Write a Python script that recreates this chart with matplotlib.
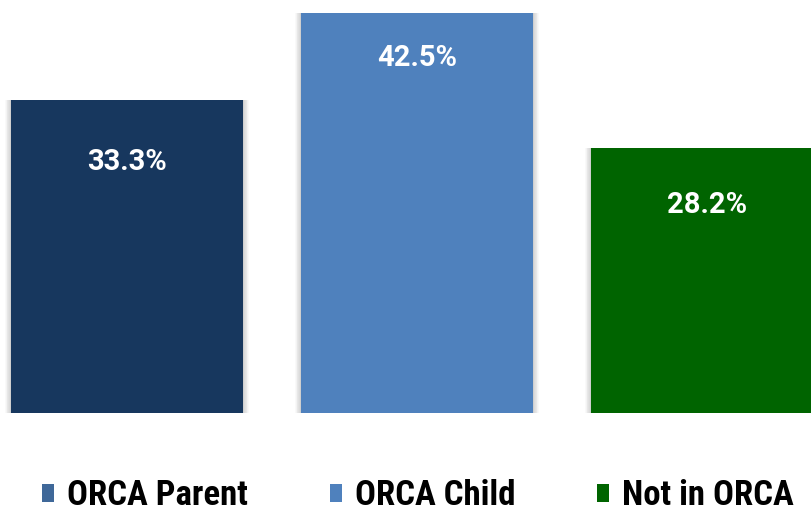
import matplotlib.pyplot as plt
from matplotlib.patches import Patch

# share of respondents in each group
groups = ["ORCA Parent", "ORCA Child", "Not in ORCA"]
shares = [33.3, 42.5, 28.2]
labels = ["33.3%", "42.5%", "28.2%"]
colors = ["#17375E", "#4F81BD", "#006400"]
legend_colors = ["#3F6899", "#4F81BD", "#006400"]

# how far below each bar top its label sits (points)
label_drop = [-45, -32, -41]

narrow = ["Liberation Sans Narrow", "Roboto Condensed", "Roboto", "DejaVu Sans"]

fig = plt.figure(figsize=(8.12, 5.08), dpi=100)
ax = fig.add_axes([0, 0, 1, 1])

x = list(range(len(groups)))

# soft grey glow around each bar
for k in range(8):
    ax.bar(x, shares, width=0.80 + 0.005 * (k + 1), color="#000000",
           alpha=0.022, linewidth=0, zorder=1)
ax.bar(x, shares, width=0.80, color=colors, linewidth=0, zorder=2)

for xi, val, lab, dy in zip(x, shares, labels, label_drop):
    ax.annotate(lab, (xi, val), xytext=(0, dy), textcoords="offset points",
                ha="center", va="center", color="white", fontsize=21,
                fontweight="bold", family=["Roboto", "DejaVu Sans"],
                zorder=3)

# axis spans the whole canvas: zero line sits near the bottom
ax.set_xlim(-0.438, 2.362)
ax.set_ylim(-95 / 9.41, 413 / 9.41)
ax.axis("off")

handles = [Patch(facecolor=c, edgecolor="none") for c in legend_colors]
leg = fig.legend(handles, groups, loc="center left", ncol=3,
                 bbox_to_anchor=(0.052, 0.024), frameon=False,
                 handlelength=0.35, handleheight=0.46, handletextpad=0.37,
                 columnspacing=2.35, borderpad=0, borderaxespad=0,
                 prop={"family": narrow, "weight": "bold", "size": 25})

fig.savefig("out.png", dpi=100)
